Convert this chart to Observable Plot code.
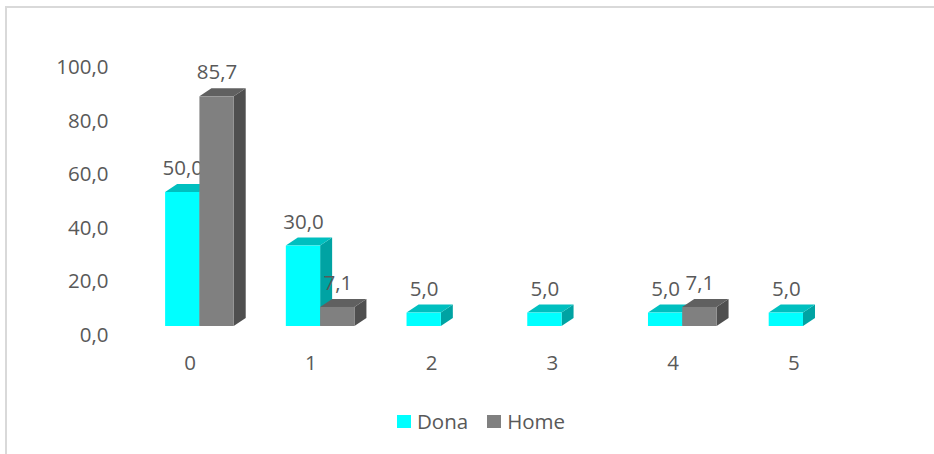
<!DOCTYPE html>
<html><head><meta charset="utf-8">
<script src="https://cdn.jsdelivr.net/npm/d3@7"></script>
<script src="https://cdn.jsdelivr.net/npm/@observablehq/plot@0.6"></script>
<style>
html,body{margin:0;padding:0;background:#fff;overflow:hidden;}
#wrap{position:relative;width:934px;height:454px;font-family:"Open Sans",sans-serif;color:#595959;}
#frame{position:absolute;left:5px;top:6px;width:1000px;height:1000px;border-left:2px solid #d9d9d9;border-top:2px solid #d9d9d9;}
#chart{position:absolute;left:0;top:0;}
#legend{position:absolute;left:397px;top:407px;display:flex;align-items:center;font-size:20.5px;line-height:28px;}
.item{display:flex;align-items:center;margin-right:19px;}
.sw{width:14px;height:13px;display:inline-block;margin-right:6px;}
</style></head>
<body><div id="wrap"><div id="frame"></div><div id="chart"></div><div id="legend"></div></div>
<script>
const categories = ["0","1","2","3","4","5"];
const series = ["Dona","Home"];
const dona = [50.0, 30.0, 5.0, 5.0, 5.0, 5.0];
const home = [85.7, 7.1, null, null, 7.1, null];
const yTicks = [0, 20, 40, 60, 80, 100];
const seriesColors = {
  Dona: {front: "#00ffff", top: "#00bfbf", side: "#00a3a3"},
  Home: {front: "#808080", top: "#606060", side: "#4f4f4f"}
};

const W = 934, H = 454;
const mL = 69, mR = 20, mT = 58, mB = H - 326;
const pxX = (W - mL - mR) / 7, pxY = (H - mT - mB) / 100;
const groupOff = 9.7 / pxX, barW = 34.3 / pxX;
const dX = 12 / pxX, dY = 8 / pxY;
const fmt = d => d.toFixed(1).replace(".", ",");

const values = {Dona: dona, Home: home};
const marks = [];
series.forEach((s, k) => {
  const bars = [];
  values[s].forEach((v, i) => {
    if (v == null) return;
    const x1 = i + groupOff + (k - 1) * barW;
    bars.push({id: s + i, x1, x2: x1 + barW, v});
  });
  const tops = bars.flatMap(b => [
    {id: b.id, y: b.v, x1: b.x1, x2: b.x2},
    {id: b.id, y: b.v + dY, x1: b.x1 + dX, x2: b.x2 + dX}
  ]);
  const sides = bars.flatMap(b => [
    {id: b.id, x: b.x2, y1: 0, y2: b.v},
    {id: b.id, x: b.x2 + dX, y1: dY, y2: b.v + dY}
  ]);
  const c = seriesColors[s];
  marks.push(Plot.areaY(sides, {x: "x", y1: "y1", y2: "y2", z: "id", fill: c.side}));
  marks.push(Plot.areaX(tops, {y: "y", x1: "x1", x2: "x2", z: "id", fill: c.top}));
  marks.push(Plot.rect(bars, {x1: "x1", x2: "x2", y1: 0, y2: "v", fill: c.front}));
  marks.push(Plot.text(bars, {x: b => (b.x1 + b.x2) / 2, y: "v", text: b => fmt(b.v), dy: -24, lineAnchor: "middle", fill: "#595959"}));
});

marks.push(Plot.text(yTicks, {y: d => d, text: fmt, frameAnchor: "left", dx: 39, dy: 9, textAnchor: "end", lineAnchor: "middle", fill: "#595959"}));
marks.push(Plot.text(categories, {x: (d, i) => i, text: d => d, frameAnchor: "bottom", dy: 37, lineAnchor: "middle", fill: "#595959"}));

const chart = Plot.plot({
  width: W, height: H,
  marginLeft: mL, marginRight: mR, marginTop: mT, marginBottom: mB,
  x: {type: "linear", domain: [-1, 6], axis: null},
  y: {domain: [0, 100], axis: null},
  style: {fontFamily: "'Open Sans', sans-serif", fontSize: "20.5px", background: "transparent", color: "#595959"},
  marks
});
document.getElementById("chart").appendChild(chart);

const legend = document.getElementById("legend");
series.forEach(s => {
  const it = document.createElement("div");
  it.className = "item";
  const sw = document.createElement("span");
  sw.className = "sw";
  sw.style.background = seriesColors[s].front;
  const t = document.createElement("span");
  t.textContent = s;
  it.appendChild(sw); it.appendChild(t);
  legend.appendChild(it);
});
</script>
</body></html>
